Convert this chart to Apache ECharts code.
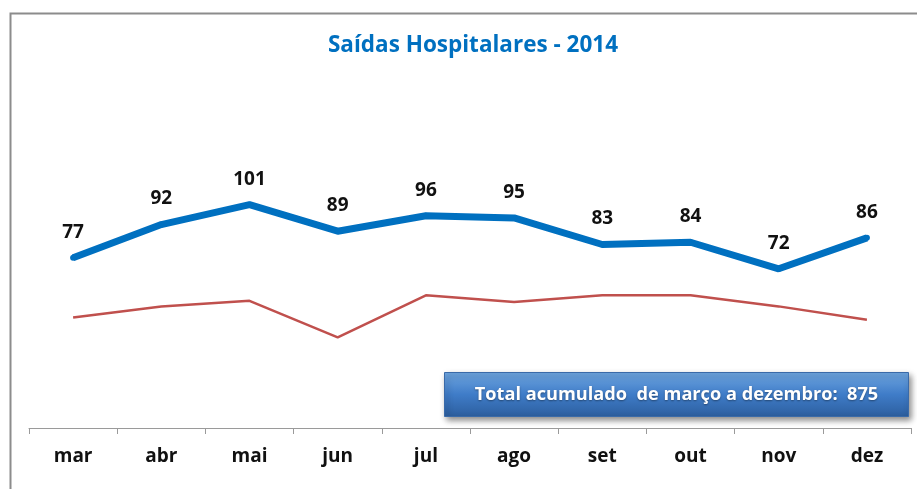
<!DOCTYPE html>
<html>
<head>
<meta charset="utf-8">
<script src="https://cdn.jsdelivr.net/npm/echarts@6/dist/echarts.min.js"></script>
<style>
  html, body { margin: 0; padding: 0; background: #fff; }
  #chart { width: 917px; height: 489px; }
</style>
</head>
<body>
<div id="chart"></div>
<script>
// meses de março a dezembro
const months = ['mar', 'abr', 'mai', 'jun', 'jul', 'ago', 'set', 'out', 'nov', 'dez']
// saídas hospitalares (linha azul)
const saidas = [77, 92, 101, 89, 96, 95, 83, 84, 72, 86]
// linha vermelha (sem rótulos)
const referencia = [50, 55, 57.5, 41, 60, 57, 60, 60, 55, 49]
const titleText = 'Saídas Hospitalares - 2014'
const totalText = 'Total acumulado  de março a dezembro:  875'

const myChart = echarts.init(document.getElementById('chart'))
const font = '"Open Sans", sans-serif'

const option = {
  animation: false,
  title: {
    text: titleText,
    left: 468,
    top: 29,
    textAlign: 'center',
    textStyle: { color: '#0070C0', fontSize: 22.5, fontWeight: 'bold', fontFamily: font }
  },
  grid: { left: 29, right: 6, top: 30, bottom: 61 },
  xAxis: {
    type: 'category',
    data: months,
    boundaryGap: true,
    axisLine: { lineStyle: { color: '#9a9a9a', width: 1 } },
    axisTick: { show: true, alignWithLabel: false, length: 6, lineStyle: { color: '#9a9a9a' } },
    axisLabel: { color: '#111', fontSize: 19, fontWeight: 'bold', fontFamily: font, margin: 19 }
  },
  yAxis: {
    type: 'value',
    min: 0,
    max: 180,
    show: false,
    splitLine: { show: false }
  },
  series: [
    {
      name: 'referencia',
      type: 'line',
      data: referencia,
      symbol: 'none',
      lineStyle: { color: '#C0504D', width: 2.5 },
      z: 2
    },
    {
      name: 'saidas',
      type: 'line',
      data: saidas,
      symbol: 'circle',
      symbolSize: 6,
      showSymbol: true,
      itemStyle: { color: '#0070C0', borderWidth: 0 },
      lineStyle: { color: '#0070C0', width: 7 },
      label: {
        show: true,
        position: 'top',
        distance: 13,
        color: '#111',
        fontSize: 19,
        fontWeight: 'bold',
        fontFamily: font
      },
      z: 3
    }
  ],
  graphic: [
    {
      type: 'rect',
      left: 8, top: 11,
      shape: { width: 940, height: 520 },
      style: { fill: 'none', stroke: '#8c8c8c', lineWidth: 2 },
      silent: true
    },
    {
      type: 'group',
      left: 444, top: 372,
      children: [
        {
          type: 'rect',
          shape: { width: 464, height: 44 },
          style: {
            fill: new echarts.graphic.LinearGradient(0, 0, 0, 1, [
              { offset: 0, color: '#6fa6e0' },
              { offset: 0.5, color: '#3f7cc8' },
              { offset: 1, color: '#2c5e9e' }
            ]),
            stroke: '#3a6aa8',
            lineWidth: 1,
            shadowBlur: 6,
            shadowOffsetX: 2,
            shadowOffsetY: 3,
            shadowColor: 'rgba(0,0,0,0.45)'
          }
        },
        {
          type: 'text',
          x: 232, y: 22,
          style: {
            text: totalText,
            fill: '#fff',
            fontSize: 18.2,
            fontWeight: 'bold',
            fontFamily: font,
            align: 'center',
            verticalAlign: 'middle',
            textShadowColor: 'rgba(0,0,0,0.4)',
            textShadowBlur: 2,
            textShadowOffsetY: 1
          }
        }
      ]
    }
  ]
}
myChart.setOption(option)
</script>
</body>
</html>
